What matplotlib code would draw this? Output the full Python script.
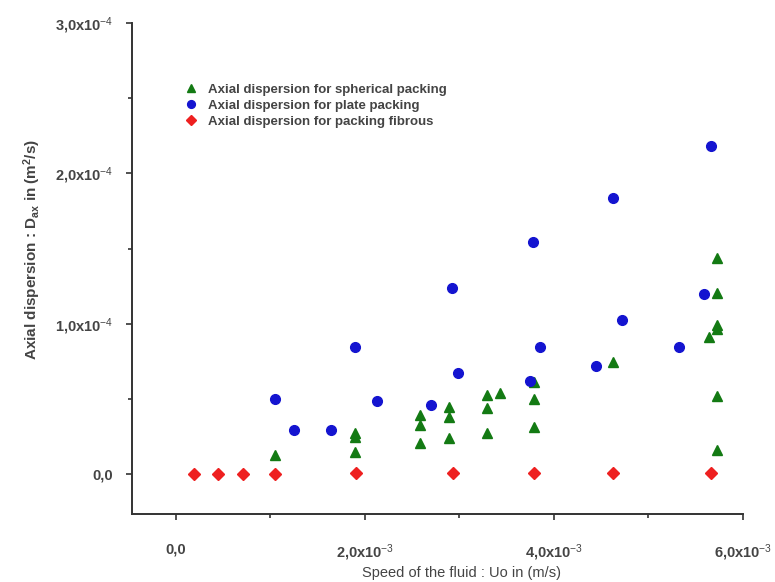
import matplotlib
matplotlib.use("Agg")
import matplotlib.pyplot as plt
from matplotlib.ticker import FixedLocator, MultipleLocator

plt.rcParams['font.family'] = ['Liberation Sans', 'DejaVu Sans']
plt.rcParams['mathtext.fontset'] = 'custom'
plt.rcParams['mathtext.rm'] = 'Liberation Sans'
plt.rcParams['mathtext.it'] = 'Liberation Sans:italic'
plt.rcParams['mathtext.bf'] = 'Liberation Sans:bold'

# Données (U0 en m/s, Dax en m2/s)
sph_x = [1.052e-3, 1.896e-3, 1.896e-3, 1.896e-3, 2.585e-3, 2.585e-3, 2.585e-3,
         2.895e-3, 2.895e-3, 2.895e-3, 3.29e-3, 3.29e-3, 3.29e-3, 3.432e-3,
         3.792e-3, 3.792e-3, 3.792e-3, 4.622e-3, 5.724e-3, 5.724e-3, 5.724e-3,
         5.724e-3, 5.642e-3, 5.724e-3, 5.724e-3]
sph_y = [0.126e-4, 0.273e-4, 0.246e-4, 0.146e-4, 0.393e-4, 0.326e-4, 0.208e-4,
         0.448e-4, 0.377e-4, 0.240e-4, 0.526e-4, 0.436e-4, 0.271e-4, 0.537e-4,
         0.612e-4, 0.501e-4, 0.313e-4, 0.743e-4, 1.437e-4, 1.206e-4, 0.993e-4,
         0.963e-4, 0.910e-4, 0.517e-4, 0.160e-4]

plate_x = [1.049e-3, 1.256e-3, 1.645e-3, 1.896e-3, 2.125e-3, 2.701e-3, 2.927e-3,
           2.987e-3, 3.75e-3, 3.782e-3, 3.852e-3, 4.445e-3, 4.629e-3, 4.72e-3,
           5.324e-3, 5.583e-3, 5.66e-3]
plate_y = [0.499e-4, 0.295e-4, 0.295e-4, 0.843e-4, 0.486e-4, 0.459e-4, 1.238e-4,
           0.670e-4, 0.619e-4, 1.542e-4, 0.847e-4, 0.717e-4, 1.836e-4, 1.023e-4,
           0.845e-4, 1.198e-4, 2.182e-4]

fib_x = [0.196e-3, 0.45e-3, 0.716e-3, 1.05e-3, 1.907e-3, 2.93e-3, 3.785e-3,
         4.63e-3, 5.66e-3]
fib_y = [0.1e-6, 0.1e-6, 0.2e-6, 0.3e-6, 0.4e-6, 0.5e-6, 0.6e-6, 0.7e-6, 0.8e-6]

x_ticks = [0.0, 2.0e-3, 4.0e-3, 6.0e-3]
x_labels = ['0,0', r'2,0x10$^{-3}$', r'4,0x10$^{-3}$', r'6,0x10$^{-3}$']
y_ticks = [0.0, 1.0e-4, 2.0e-4, 3.0e-4]
y_labels = ['0,0', r'1,0x10$^{-4}$', r'2,0x10$^{-4}$', r'3,0x10$^{-4}$']

fig = plt.figure(figsize=(7.75, 5.82), dpi=100)
ax = fig.add_axes([0.1697, 0.1168, 0.789, 0.8437])

ax.plot(sph_x, sph_y, linestyle='none', marker='^', ms=7, color='#137a13',
        label='Axial dispersion for spherical packing')
ax.plot(plate_x, plate_y, linestyle='none', marker='o', ms=7, color='#1414d0',
        label='Axial dispersion for plate packing')
ax.plot(fib_x, fib_y, linestyle='none', marker='D', ms=6, color='#ee2020',
        label='Axial dispersion for packing fibrous')

ax.set_xlim(-0.466e-3, 6.0e-3)
ax.set_ylim(-0.266e-4, 3.0e-4)

ax.xaxis.set_major_locator(FixedLocator(x_ticks))
ax.set_xticklabels(x_labels)
ax.xaxis.set_minor_locator(MultipleLocator(1e-3))
ax.yaxis.set_major_locator(FixedLocator(y_ticks))
ax.set_yticklabels(y_labels)
ax.yaxis.set_minor_locator(MultipleLocator(0.5e-4))

for s in ['top', 'right']:
    ax.spines[s].set_visible(False)
for s in ['left', 'bottom']:
    ax.spines[s].set_linewidth(1.4)
    ax.spines[s].set_color('#333333')

ax.tick_params(which='major', direction='out', length=4.5, width=1.2,
               color='#333333', labelsize=10.5, labelcolor='#444444')
ax.tick_params(which='minor', direction='out', length=3, width=1.2, color='#333333')
ax.tick_params(axis='x', which='major', pad=16)
ax.tick_params(axis='y', which='major', pad=8.5)
for lab in ax.get_xticklabels() + ax.get_yticklabels():
    lab.set_fontweight('bold')

ax.set_xlabel('Speed of the fluid : Uo in (m/s)', fontsize=10.5, color='#444444')
ax.xaxis.set_label_coords(0.539, -0.105)
ax.set_ylabel(r'Axial dispersion : D$_{\mathbf{ax}}$ in (m$^{\mathbf{2}}$/s)', fontsize=11,
              color='#444444', fontweight='bold')
ax.yaxis.set_label_coords(-0.145, 0.538)

leg = ax.legend(loc='upper left', bbox_to_anchor=(0.075, 0.887), frameon=False,
                fontsize=9.5, handletextpad=0.7, labelspacing=0.28, handlelength=1.2,
                numpoints=1, markerscale=0.8, borderaxespad=0)
for t in leg.get_texts():
    t.set_color('#444444')
    t.set_fontweight('bold')

fig.savefig('out.png', dpi=100)
